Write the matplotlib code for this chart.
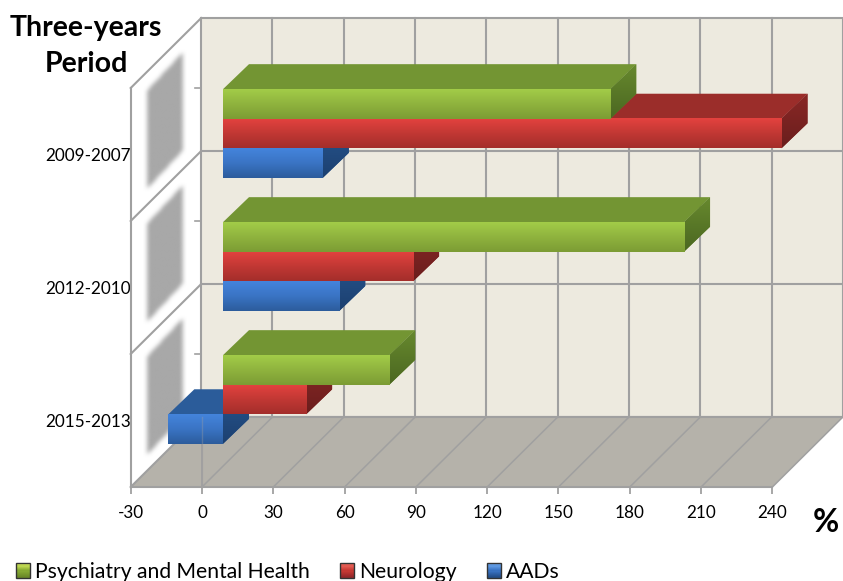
import matplotlib
matplotlib.use('Agg')
import matplotlib.pyplot as plt
import numpy as np
from matplotlib.colors import LinearSegmentedColormap
from matplotlib.legend_handler import HandlerBase
from matplotlib.patches import Patch, Polygon, Rectangle
from matplotlib.path import Path

plt.rcParams['font.family'] = ['Lato', 'DejaVu Sans']
plt.rcParams['axes.unicode_minus'] = False

periods = ['2015-2013', '2012-2010', '2009-2007']
psychiatry = [70, 194, 163]
neurology = [35, 80, 235]
aads = [-23, 49, 42]
x_ticks = [-30, 0, 30, 60, 90, 120, 150, 180, 210, 240]

# name, values, front gradient stops, top colour, side gradient stops
series = [
    ('AADs', aads, ['#4484dc', '#3a74c4', '#2c5c9c'], '#2b5c9a', ['#28568f', '#1c4070']),
    ('Neurology', neurology, ['#e4423f', '#c23834', '#a42e2b'], '#9b2d2a', ['#8a2826', '#6a1e1d']),
    ('Psychiatry and Mental Health', psychiatry, ['#a2cc48', '#8fb33e', '#7c9c34'], '#739533', ['#67892e', '#4b6721']),
]

W, H = 843, 581
PX = 71.3 / 30   # pixels per % on the value axis
PY = 133.0       # pixels per category band
X0 = 202.0       # pixel of value 0 on the front plane
Y0 = 487.0       # pixel of the front floor edge

WALL_X, WALL_Y = 70.5 / PX, 70 / PY
BAR_X, BAR_Y = 21 / PX, 21 / PY       # bars stand this far behind the front plane
DEP_X, DEP_Y = 26 / PX, 25 / PY       # depth of a bar
BAR_H = 1 / 4.5

GRID = '#a0a0a0'
WALL = '#edeadf'
FLOOR = '#b5b2aa'

fig = plt.figure(figsize=(W / 100, H / 100), dpi=100)
ax = fig.add_axes([0, 0, 1, 1])
ax.set_facecolor('white')


def gradient(cols, extent, clip=None, zorder=3):
    cmap = LinearSegmentedColormap.from_list('g', cols)
    g = np.linspace(0, 1, 64).reshape(-1, 1)
    im = ax.imshow(g, cmap=cmap, extent=extent, aspect='auto', origin='upper',
                   zorder=zorder, interpolation='bilinear')
    if clip is not None:
        im.set_clip_path(clip)
    return im


def blurred_shadow(pts, zorder=1.4):
    # soft grey parallelogram, box-blurred on a pixel grid
    xs = np.array([p[0] for p in pts])
    ys = np.array([p[1] for p in pts])
    pad_x, pad_y = 10 / PX, 10 / PY
    ext = (xs.min() - pad_x, xs.max() + pad_x, ys.min() - pad_y, ys.max() + pad_y)
    nx = int((ext[1] - ext[0]) * PX)
    ny = int((ext[3] - ext[2]) * PY)
    gx, gy = np.meshgrid(np.linspace(ext[0], ext[1], nx), np.linspace(ext[3], ext[2], ny))
    mask = Path(pts).contains_points(np.c_[gx.ravel(), gy.ravel()]).reshape(ny, nx).astype(float)
    kernel = np.ones(5) / 5
    for _ in range(2):
        mask = np.apply_along_axis(lambda r: np.convolve(r, kernel, mode='same'), 0, mask)
        mask = np.apply_along_axis(lambda r: np.convolve(r, kernel, mode='same'), 1, mask)
    rgba = np.zeros((ny, nx, 4))
    rgba[..., :3] = 0xa8 / 255
    rgba[..., 3] = mask
    ax.imshow(rgba, extent=ext, aspect='auto', origin='upper', zorder=zorder, interpolation='bilinear')


n_bands = len(periods)
xl, xr = x_ticks[0], x_ticks[-1]

# walls and floor
ax.add_patch(Polygon([(xl + WALL_X, WALL_Y), (xr + WALL_X, WALL_Y),
                      (xr + WALL_X, n_bands + WALL_Y), (xl + WALL_X, n_bands + WALL_Y)],
                     fc=WALL, ec=GRID, lw=1.5, zorder=1))
ax.add_patch(Polygon([(xl, 0), (xr, 0), (xr + WALL_X, WALL_Y), (xl + WALL_X, WALL_Y)],
                     fc=FLOOR, ec='none', zorder=1))

# grid lines
for t in x_ticks[1:-1]:
    ax.plot([t + WALL_X] * 2, [WALL_Y, n_bands + WALL_Y], color=GRID, lw=1.5, zorder=1.5)
for t in x_ticks[1:]:
    ax.plot([t, t + WALL_X], [0, WALL_Y], color=GRID, lw=1.1, zorder=1.5)
ax.plot([0, 0], [0, WALL_Y], color=GRID, lw=1.3, zorder=1.5)
for b in range(n_bands + 1):
    ax.plot([xl, xl + WALL_X], [b, b + WALL_Y], color=GRID, lw=1.5, zorder=1.6)
    if b < n_bands:
        ax.plot([xl + WALL_X, xr + WALL_X], [b + WALL_Y] * 2, color=GRID, lw=1.5, zorder=1.5)
ax.plot([xl, xl], [0, n_bands], color=GRID, lw=1.5, zorder=1.6)
for b in range(1, n_bands + 1):
    ax.plot([xl + WALL_X - 6 / PX, xl + WALL_X], [b, b], color=GRID, lw=1.2, zorder=1.6)

# soft bar shadows on the side wall
sx0, sx1 = xl + 16.5 / PX, xl + 52.5 / PX
for b in range(n_bands):
    blurred_shadow([(sx0, b + 0.24), (sx1, b + 0.24 + 38 / PY),
                    (sx1, b + 0.98 + 38 / PY), (sx0, b + 0.98)])

# bars, back of the stack first
z = 3.0
for b in range(n_bands):
    c = b + 0.5 + BAR_Y
    for s, (name, values, front, top, side) in enumerate(series):
        y = c + (s - 1) * BAR_H
        v = values[b]
        left, right = BAR_X + min(v, 0), BAR_X + max(v, 0)
        y0, y1 = y - BAR_H / 2, y + BAR_H / 2
        ax.add_patch(Polygon([(left, y1), (right, y1), (right + DEP_X, y1 + DEP_Y), (left + DEP_X, y1 + DEP_Y)],
                             fc=top, ec='none', zorder=z))
        sd = Polygon([(right, y0), (right, y1), (right + DEP_X, y1 + DEP_Y), (right + DEP_X, y0 + DEP_Y)],
                     fc=side[0], ec='none', zorder=z + 0.01)
        ax.add_patch(sd)
        gradient(side, (right, right + DEP_X, y0, y1 + DEP_Y), clip=sd, zorder=z + 0.02)
        ax.barh(y, v, height=BAR_H, left=BAR_X, color=front[1], zorder=z + 0.03)
        gradient(front, (left, right, y0, y1), zorder=z + 0.04)
        z += 0.1

# the zero line shows faintly through the floor bar
ax.plot([0, 0], [0, WALL_Y], color=GRID, lw=1.0, alpha=0.35, zorder=9)

# axes
ax.set_xlim((0 - X0) / PX, (W - X0) / PX)
ax.set_ylim((Y0 - H) / PY, Y0 / PY)
for side_name in ('top', 'right'):
    ax.spines[side_name].set_visible(False)
ax.spines['bottom'].set_position(('data', 0))
ax.spines['bottom'].set_bounds(xl, xr)
ax.spines['bottom'].set_color(GRID)
ax.spines['bottom'].set_linewidth(1.5)
ax.spines['left'].set_position(('data', xl))
ax.spines['left'].set_color('none')
ax.set_xticks(x_ticks)
ax.set_yticks(np.arange(n_bands) + 0.5)
ax.set_yticklabels(periods)
ax.tick_params(axis='x', length=5, width=1.3, color=GRID, pad=8, labelsize=12.3)
ax.tick_params(axis='y', length=0, pad=0, labelsize=12.3)

# axis captions
fig.text(85.5 / W, 1 - 28 / H, 'Three-years', ha='center', va='center', fontsize=20.5, fontweight='bold')
fig.text(86 / W, 1 - 64 / H, 'Period', ha='center', va='center', fontsize=20.5, fontweight='bold')
fig.text(826 / W, 1 - 522 / H, '%', ha='center', va='center', fontsize=23, fontweight='bold')


class GradientSquare(HandlerBase):
    def __init__(self, cols):
        super().__init__()
        self.cols = cols

    def create_artists(self, legend, orig, xd, yd, width, height, fontsize, trans):
        cmap = LinearSegmentedColormap.from_list('h', self.cols)
        arts = []
        n = 12
        for i in range(n):
            arts.append(Rectangle((-xd, -yd + height * (n - 1 - i) / n), width, height / n + 0.2,
                                  fc=cmap(i / (n - 1)), ec='none', transform=trans))
        arts.append(Rectangle((-xd, -yd), width, height, fc='none', ec='#333333', lw=1.0, transform=trans))
        return arts


legend_cols = {
    'Psychiatry and Mental Health': ['#d8ec60', '#88ab34', '#6c8a28'],
    'Neurology': ['#f06a60', '#c83a34', '#96282a'],
    'AADs': ['#70aaf0', '#3a74c4', '#24508c'],
}
handles = [Patch(label=s[0]) for s in reversed(series)]
hmap = {h: GradientSquare(legend_cols[h.get_label()]) for h in handles}
ax.legend(handles=handles, handler_map=hmap, ncol=3, frameon=False, fontsize=15.2,
          loc='lower left', bbox_to_anchor=(16 / W, -1 / H), bbox_transform=fig.transFigure,
          borderpad=0, borderaxespad=0, handlelength=0.68, handleheight=0.68,
          handletextpad=0.2, columnspacing=1.45)

fig.savefig('out.png', dpi=100)
plt.close(fig)
